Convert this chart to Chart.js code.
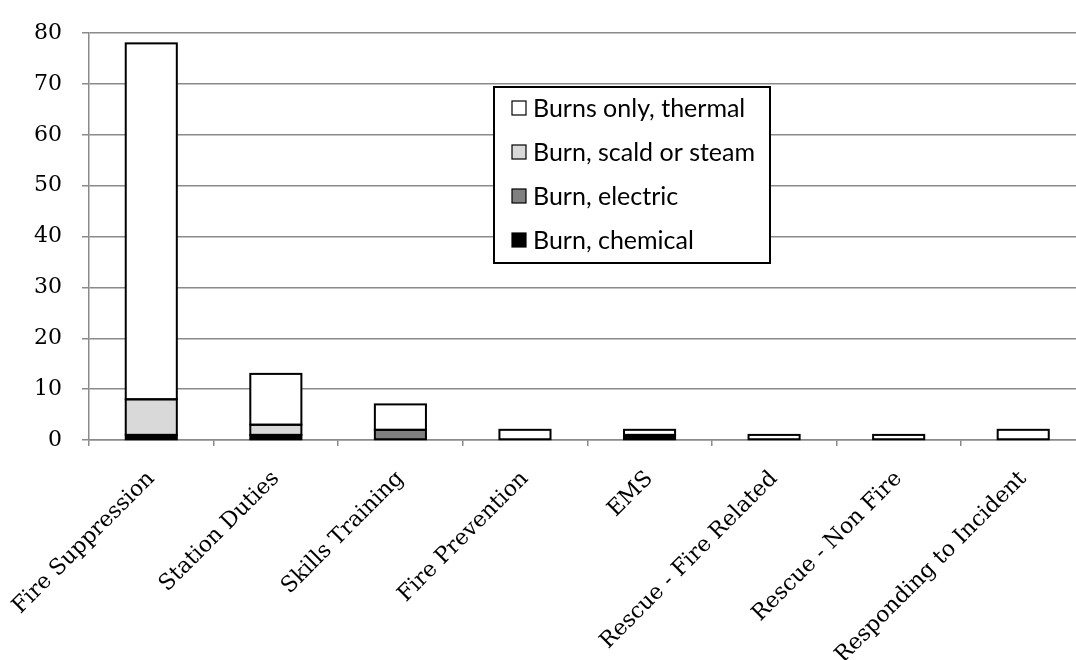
<!DOCTYPE html>
<html>
<head>
<meta charset="utf-8">
<script src="https://cdn.jsdelivr.net/npm/chart.js@4/dist/chart.umd.min.js"></script>
<style>
  html, body { margin: 0; padding: 0; background: #ffffff; overflow: hidden; }
  #wrap { width: 1076px; height: 660px; overflow: hidden; }
  canvas { display: block; }
</style>
</head>
<body>
<div id="wrap"><canvas id="c" width="1090" height="660"></canvas></div>
<script>
// Activity categories along the x axis
const categories = [
  'Fire Suppression', 'Station Duties', 'Skills Training', 'Fire Prevention',
  'EMS', 'Rescue - Fire Related', 'Rescue - Non Fire', 'Responding to Incident'
];

// Burn injury counts per activity, one array per burn type (stacked bottom to top)
const chemical = [1, 1, 0, 0, 1, 0, 0, 0];
const electric = [0, 0, 2, 0, 0, 0, 0, 0];
const scaldSteam = [7, 2, 0, 0, 0, 0, 0, 0];
const thermal = [70, 10, 5, 2, 1, 1, 1, 2];

// Value axis tick labels
const yTicks = [0, 10, 20, 30, 40, 50, 60, 70, 80];

const GRID = '#8a8a8a';

function series(label, data, color) {
  return {
    label,
    data,
    backgroundColor: color,
    borderWidth: 0,
    categoryPercentage: 1,
    barPercentage: 0.41
  };
}

// Outline each stacked segment with a stroke centred on its edges
const segmentOutline = {
  id: 'segmentOutline',
  afterDatasetsDraw(chart) {
    const ctx = chart.ctx;
    ctx.save();
    ctx.lineWidth = 2;
    ctx.strokeStyle = '#000000';
    chart.data.datasets.forEach((ds, i) => {
      const meta = chart.getDatasetMeta(i);
      meta.data.forEach((bar, j) => {
        if (!ds.data[j]) return;
        const p = bar.getProps(['x', 'y', 'base', 'width'], true);
        ctx.strokeRect(p.x - p.width / 2, p.y, p.width, p.base - p.y);
      });
    });
    ctx.restore();
  }
};

// Boxed legend drawn inside the plot, top item = top of the stack
const boxLegend = {
  id: 'boxLegend',
  afterDraw(chart) {
    const ctx = chart.ctx;
    const x0 = 494, y0 = 87, w = 276, h = 176;
    ctx.save();
    ctx.fillStyle = '#ffffff';
    ctx.fillRect(x0, y0, w, h);
    ctx.lineWidth = 2;
    ctx.strokeStyle = '#000000';
    ctx.strokeRect(x0, y0, w, h);
    const items = chart.data.datasets.slice().reverse();
    ctx.font = '25px Lato, "Liberation Sans", sans-serif';
    ctx.textBaseline = 'middle';
    ctx.textAlign = 'left';
    items.forEach((ds, i) => {
      const cy = 108 + i * 44;
      ctx.fillStyle = ds.backgroundColor;
      ctx.fillRect(512, cy - 7, 14, 14);
      ctx.lineWidth = 1.2;
      ctx.strokeStyle = '#000000';
      ctx.strokeRect(512, cy - 7, 14, 14);
      ctx.fillStyle = '#000000';
      ctx.fillText(ds.label, 533, cy + 1);
    });
    ctx.restore();
  }
};

new Chart(document.getElementById('c'), {
  type: 'bar',
  data: {
    labels: categories,
    datasets: [
      series('Burn, chemical', chemical, '#000000'),
      series('Burn, electric', electric, '#808080'),
      series('Burn, scald or steam', scaldSteam, '#d9d9d9'),
      series('Burns only, thermal', thermal, '#ffffff')
    ]
  },
  options: {
    responsive: false,
    animation: false,
    layout: { padding: { top: 20.5, right: 4.5, left: 0, bottom: 0 } },
    plugins: {
      legend: { display: false },
      tooltip: { enabled: false }
    },
    scales: {
      x: {
        stacked: true,
        afterFit(scale) {
          scale.height = 220;
          scale.paddingLeft = 0;
          scale.paddingRight = 0;
        },
        grid: {
          display: true,
          drawOnChartArea: false,
          drawTicks: true,
          tickLength: 6,
          offset: true,
          color: GRID,
          lineWidth: 1.5
        },
        border: { display: true, color: GRID, width: 1.5 },
        ticks: {
          autoSkip: false,
          minRotation: 45,
          maxRotation: 45,
          padding: 20,
          color: '#000000',
          font: { family: '"DejaVu Serif", serif', size: 22 }
        }
      },
      y: {
        stacked: true,
        min: 0,
        max: 80,
        afterFit(scale) { scale.width = 89; },
        afterBuildTicks(scale) { scale.ticks = yTicks.map(v => ({ value: v })); },
        grid: {
          color: GRID,
          lineWidth: 1.5,
          drawTicks: true,
          tickLength: 7
        },
        border: { display: true, color: GRID, width: 1.5 },
        ticks: {
          padding: 20,
          color: '#000000',
          font: { family: '"DejaVu Serif", serif', size: 22 }
        }
      }
    }
  },
  plugins: [segmentOutline, boxLegend]
});
</script>
</body>
</html>
